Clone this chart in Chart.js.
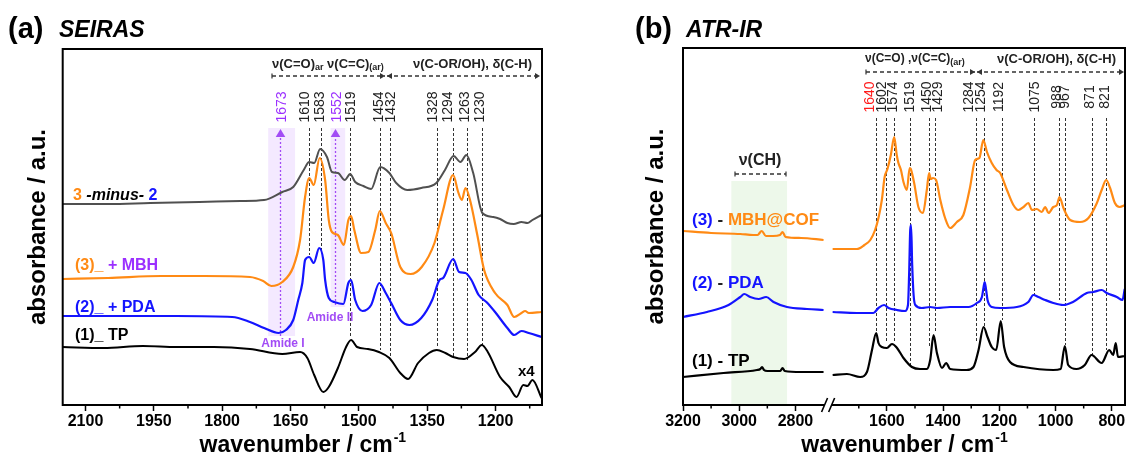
<!DOCTYPE html>
<html><head><meta charset="utf-8"><title>SEIRAS / ATR-IR</title>
<script src="https://cdn.jsdelivr.net/npm/chart.js@4.4.1/dist/chart.umd.min.js"></script>
<style>
html,body{margin:0;padding:0;background:#fff}
body{width:1127px;height:459px;position:relative;overflow:hidden}
canvas{position:absolute;top:0}
#ca{left:0}
#cb{left:560px}
</style></head>
<body>
<canvas id="ca" width="560" height="459"></canvas>
<canvas id="cb" width="567" height="459"></canvas>
<script>
// ================= DATA : panel (a) SEIRAS =================
const aMinusWn = [2150,2050,1958,1850,1760,1708,1668,1644,1621,1609,1598,1585,1570,1559,1546,1531,1519,1508,1490,1473,1453,1433,1418,1394,1363,1330,1311,1292,1277,1264,1249,1229,1205,1190,1174,1160,1143,1130,1119,1099];
const aMinusAbs = [201,201,202,203,204,205,213,218,235,243,242,256,248,233,232,225,231,223,219,216,238,232,222,215,217,222,235,249,243,250,232,192,188,186,182,181,183,182,185,190];

const aMbhWn = [2150,2050,1934,1839,1739,1710,1692,1668,1644,1629,1618,1609,1599,1586,1574,1566,1559,1546,1533,1523,1517,1510,1495,1479,1464,1454,1441,1429,1409,1386,1362,1334,1315,1293,1282,1274,1266,1256,1240,1225,1201,1174,1159,1143,1135,1127,1099];
const aMbhAbs = [126,127,129,129,128,124,119,123,138,165,208,227,220,247,225,185,173,170,160,185,189,175,152,153,175,194,182,172,138,131,138,162,195,230,213,205,217,205,170,135,112,100,88,92,94,92,93];

const aPdaWn = [2150,2000,1900,1778,1739,1708,1676,1660,1644,1633,1624,1618,1609,1599,1587,1578,1574,1566,1554,1534,1523,1517,1508,1492,1473,1455,1441,1429,1409,1389,1363,1339,1323,1315,1293,1280,1266,1253,1237,1220,1201,1174,1159,1143,1127,1099];
const aPdaAbs = [89,89,89,88,83,77,72,75,85,105,122,145,148,142,157,145,125,107,103,101,122,125,105,94,100,122,112,102,85,80,87,105,125,127,146,133,132,125,110,103,93,77,70,74,72,68];

const aTpWn = [2150,2060,1974,1900,1818,1739,1668,1629,1613,1598,1578,1566,1546,1528,1517,1504,1480,1456,1433,1409,1392,1370,1346,1329,1310,1293,1269,1245,1230,1217,1190,1170,1154,1139,1130,1119,1099];
const aTpAbs = [58,57,59,58,58,56,51,53,47,30,13,18,37,58,65,58,56,53,47,32,26,42,52,55,52,48,46,53,60,53,28,18,8,20,19,25,7];

const aTickWn = [2100,1950,1800,1650,1500,1350,1200];
const aMinorWn = [2025,1875,1725,1575,1425,1275,1125];
const aPeaks = [1673,1610,1583,1552,1519,1454,1432,1328,1294,1263,1230];
const aPeakEnd = [null,150,155,null,67,55,47,57,48,45,60];   // absorbance where guide ends
const aHighlight = [1673,1552];
const aGuideTop = 277;
const aAmideWn = [[1699,1640],[1562,1530]];
const aAmideEnd = [69,98];
const aArrowWn = [1673,1552];
const aArrowFrom = [69,100];

// ================= DATA : panel (b) ATR-IR =================
const bTpLeftWn = [3200,3056,2937,2925,2919,2912,2900,2854,2846,2838,2780,2700];
const bTpLeftAbs = [28,32,35,36,38,35,34,34,37,34,33,33];
const bTpRightWn = [1793,1742,1695,1671,1653,1638,1630,1618,1600,1582,1564,1541,1511,1482,1458,1446,1434,1422,1404,1389,1375,1316,1292,1274,1256,1242,1227,1211,1195,1183,1162,1114,1008,982,967,955,926,896,872,836,809,795,786,778,754];
const bTpRightAbs = [30,31,28,33,55,72,62,58,57,61,57,47,38,36,36,45,70,52,37,42,36,35,38,55,78,68,58,55,84,58,43,38,35,36,59,40,36,40,50,42,55,50,62,48,49];

const bPdaLeftWn = [3200,3115,3038,2996,2982,2961,2931,2904,2878,2830,2759,2700];
const bPdaLeftAbs = [88,93,100,108,111,108,106,108,103,98,96,95];
const bPdaRightWn = [1793,1707,1648,1630,1610,1594,1564,1535,1525,1521,1517,1514,1510,1505,1499,1476,1446,1422,1375,1310,1280,1262,1256,1252,1247,1242,1227,1197,1138,1097,1079,1061,1037,1008,973,938,889,866,836,818,782,762,754];
const bPdaRightAbs = [93,92,92,97,100,97,95,94,100,130,175,180,140,110,100,97,98,97,98,98,102,108,118,123,115,105,98,97,98,103,110,108,105,102,100,103,112,113,115,112,108,105,116];

const bMbhLeftWn = [3200,3100,2996,2950,2935,2920,2905,2880,2855,2846,2835,2780,2700];
const bMbhLeftAbs = [174,172,171,170,170,174,169,169,170,173,168,167,165];
const bMbhRightWn = [1793,1750,1707,1680,1659,1642,1630,1618,1608,1598,1586,1574,1565,1559,1550,1541,1529,1519,1515,1503,1488,1472,1458,1450,1444,1436,1425,1410,1393,1375,1351,1328,1304,1286,1271,1257,1244,1227,1210,1197,1173,1150,1132,1114,1097,1084,1067,1049,1037,1025,1008,995,986,972,948,913,883,853,836,820,806,789,772,752];
const bMbhRightAbs = [156,156,156,160,165,175,187,205,228,236,250,268,250,242,235,223,215,237,236,222,198,192,215,232,226,227,225,205,187,177,183,190,218,245,247,265,253,242,235,232,215,200,195,198,202,195,196,193,198,192,198,200,208,197,185,183,187,202,215,225,217,202,198,200];

const bTickWn = [3200,3000,2800,1600,1400,1200,1000,800];
const bMinorWn = [3100,2900,1700,1500,1300,1100,900];
const bPeaks = [1640,1602,1574,1519,1450,1429,1284,1254,1192,1075,988,967,871,821];
const bPeakEnd = [72,62,62,40,57,72,62,78,85,108,105,60,50,55];
const bHighlight = [1640];
const bGuideTop = 287;
const bChBand = [3028,2830];
const bChBandTop = 224;

// ================= LAYOUT / STYLE =================
const FAM = '"Liberation Sans", Arial, Helvetica, sans-serif';
const ORANGE = '#ff8a14', BLUE = '#1414ff', PURPLE = '#9b30ff', AMIDE = '#a24cf5', GREY = '#505050', RED = '#ff1a1a';
const aLabelDx = [2,-4,-1,2,1,-1,1,-4,-5,-2,-2];
const bLabelDx = [-5.7,-4,-1.3,0.7,-1.6,2.7,-6.7,-3,-2.4,1,-1.6,0,-1.7,-0.7];
const OFFB = 560;
// broken axis for panel b: left segment 3200-2700, right segment 1793-753
const bLeftEnd = 2700, bRightStart = 1793;
const toU = w => (w >= 2000 ? 3200 - w : 2325.3 - w);

function F(size, bold = true, italic = false) {
  return `${italic ? 'italic ' : ''}${bold ? 'bold' : 'normal'} ${size}px ${FAM}`;
}
function parts(ctx, x, y, list, align) {
  ctx.save(); ctx.textBaseline = 'middle'; ctx.textAlign = 'left';
  let w = 0; list.forEach(p => { ctx.font = p[1]; w += ctx.measureText(p[0]).width; });
  let cx = align === 'center' ? x - w / 2 : x;
  list.forEach(p => { ctx.font = p[1]; ctx.fillStyle = p[2]; ctx.fillText(p[0], cx, y + (p[3] || 0)); cx += ctx.measureText(p[0]).width; });
  ctx.restore();
}
function vtext(ctx, x, y, text, color) {
  ctx.save(); ctx.translate(x, y); ctx.rotate(-Math.PI / 2);
  ctx.font = F(14, false); ctx.fillStyle = color; ctx.textAlign = 'center'; ctx.textBaseline = 'middle';
  ctx.fillText(text, 0, 0); ctx.restore();
}
function tri(ctx, x, y, dir, s, color) {
  ctx.save(); ctx.fillStyle = color; ctx.beginPath();
  if (dir === 'r') { ctx.moveTo(x, y); ctx.lineTo(x - s, y - s * 0.6); ctx.lineTo(x - s, y + s * 0.6); }
  else if (dir === 'l') { ctx.moveTo(x, y); ctx.lineTo(x + s, y - s * 0.6); ctx.lineTo(x + s, y + s * 0.6); }
  else { ctx.moveTo(x, y); ctx.lineTo(x - s * 0.6, y + s); ctx.lineTo(x + s * 0.6, y + s); }
  ctx.closePath(); ctx.fill(); ctx.restore();
}
function bracket(ctx, x1, x2, y, startArrow, endArrow) {
  ctx.save(); ctx.strokeStyle = '#333'; ctx.lineWidth = 1.5; ctx.setLineDash([4, 3]);
  ctx.beginPath(); ctx.moveTo(x1, y); ctx.lineTo(x2, y); ctx.stroke(); ctx.setLineDash([]);
  ctx.lineWidth = 1.2; ctx.beginPath();
  if (!startArrow) { ctx.moveTo(x1, y - 2.5); ctx.lineTo(x1, y + 2.5); }
  if (!endArrow) { ctx.moveTo(x2, y - 2.5); ctx.lineTo(x2, y + 2.5); }
  ctx.stroke(); ctx.restore();
  if (startArrow) tri(ctx, x1, y, 'l', 5, '#333');
  if (endArrow) tri(ctx, x2, y, 'r', 5, '#333');
}
function xTitle(ctx, cx, y) {
  const main = 'wavenumber / cm', sup = '-1';
  ctx.save(); ctx.fillStyle = '#000'; ctx.textBaseline = 'alphabetic'; ctx.textAlign = 'left';
  ctx.font = F(23); const w1 = ctx.measureText(main).width;
  ctx.font = F(14); const w2 = ctx.measureText(sup).width;
  const x0 = cx - (w1 + w2) / 2;
  ctx.font = F(23); ctx.fillText(main, x0, y);
  ctx.font = F(14); ctx.fillText(sup, x0 + w1 + 1, y - 10);
  ctx.restore();
}
function pts(wn, ab, f) { return wn.map((w, i) => ({ x: f ? f(w) : w, y: ab[i] })); }
function ds(data, color, w) {
  return { data, borderColor: color, borderWidth: w || 2.2, pointRadius: 0, fill: false,
           cubicInterpolationMode: 'monotone', borderJoinStyle: 'round' };
}
const tickFont = { family: FAM, size: 16, weight: 'bold' };
const yTitleFont = { family: FAM, size: 24, weight: 'bold' };

// ================= PANEL (a) =================
const aDecor = {
  id: 'aDecor',
  beforeDatasetsDraw(chart) {
    const { ctx, scales: { x, y } } = chart;
    ctx.save();
    ctx.fillStyle = 'rgba(204,153,255,0.22)';
    aAmideWn.forEach((b, i) => {
      const x1 = x.getPixelForValue(b[0]), x2 = x.getPixelForValue(b[1]);
      const yt = y.getPixelForValue(aGuideTop), yb = y.getPixelForValue(aAmideEnd[i]);
      ctx.fillRect(Math.min(x1, x2), yt, Math.abs(x2 - x1), yb - yt);
    });
    ctx.strokeStyle = '#333'; ctx.lineWidth = 1; ctx.setLineDash([3, 2]);
    aPeaks.forEach((p, i) => {
      if (aPeakEnd[i] == null) return;
      const px = Math.round(x.getPixelForValue(p)) + 0.5;
      ctx.beginPath(); ctx.moveTo(px, y.getPixelForValue(aGuideTop)); ctx.lineTo(px, y.getPixelForValue(aPeakEnd[i])); ctx.stroke();
    });
    ctx.strokeStyle = AMIDE; ctx.lineWidth = 1.3; ctx.setLineDash([2, 2]);
    aArrowWn.forEach((p, i) => {
      const px = Math.round(x.getPixelForValue(p)) + 0.5;
      ctx.beginPath(); ctx.moveTo(px, y.getPixelForValue(aArrowFrom[i])); ctx.lineTo(px, y.getPixelForValue(aGuideTop) + 6); ctx.stroke();
      tri(ctx, px, y.getPixelForValue(aGuideTop) + 1, 'u', 8, AMIDE);
    });
    ctx.restore();
  },
  afterDatasetsDraw(chart) {
    const { ctx, chartArea: ca, scales: { x, y } } = chart;
    ctx.save();
    ctx.strokeStyle = '#000'; ctx.lineWidth = 2;
    ctx.strokeRect(ca.left, ca.top, ca.right - ca.left, ca.bottom - ca.top);
    ctx.lineWidth = 1.5; ctx.beginPath();
    aMinorWn.forEach(v => { const px = x.getPixelForValue(v); ctx.moveTo(px, ca.bottom); ctx.lineTo(px, ca.bottom + 3.5); });
    ctx.stroke();
    ctx.restore();
    parts(ctx, 8, 30, [['(a)', F(29), '#000']]);
    parts(ctx, 59, 31, [['SEIRAS', F(23, true, true), '#000']]);
    parts(ctx, 272, 64, [['ν(C=O)', F(13), '#222'], ['ar', F(9), '#222', 4], [' ν(C=C)', F(13), '#222'], ['(ar)', F(9), '#222', 4]]);
    parts(ctx, 413, 64, [['ν(C-OR/OH), δ(C-H)', F(13), '#222']]);
    bracket(ctx, 272, 385, 76, false, true);
    bracket(ctx, 387, 540, 76, true, true);
    aPeaks.forEach((p, i) => {
      vtext(ctx, x.getPixelForValue(p) + aLabelDx[i], 107, String(p), aHighlight.includes(p) ? PURPLE : '#222');
    });
    parts(ctx, 73, 196, [['3', F(16), ORANGE], [' -minus- ', F(16, true, true), '#000'], ['2', F(16), BLUE]]);
    parts(ctx, 75, 266, [['(3)_', F(16), ORANGE], [' + MBH', F(16), PURPLE]]);
    parts(ctx, 75, 308, [['(2)_ + PDA', F(16), BLUE]]);
    parts(ctx, 75, 336, [['(1)_ TP', F(16), '#000']]);
    parts(ctx, 518, 372, [['x4', F(15), '#000']]);
    parts(ctx, 283, 344, [['Amide I', F(12), AMIDE]], 'center');
    parts(ctx, 330, 318, [['Amide II', F(12), AMIDE]], 'center');
    xTitle(ctx, (ca.left + ca.right) / 2, 452);
  }
};

new Chart(document.getElementById('ca'), {
  type: 'line',
  data: { datasets: [
    ds(pts(aMinusWn, aMinusAbs), GREY, 2),
    ds(pts(aMbhWn, aMbhAbs), ORANGE),
    ds(pts(aPdaWn, aPdaAbs), BLUE),
    ds(pts(aTpWn, aTpAbs), '#000', 2)
  ]},
  options: {
    responsive: false, animation: false, events: [],
    layout: { padding: { top: 49, right: 18, left: 0, bottom: 0 } },
    plugins: { legend: { display: false }, tooltip: { enabled: false } },
    scales: {
      x: {
        type: 'linear', reverse: true, min: 1098, max: 2150,
        afterBuildTicks: s => { s.ticks = aTickWn.map(v => ({ value: v })); },
        afterFit: s => { s.height = 54; },
        grid: { display: true, drawOnChartArea: false, drawTicks: true, tickLength: 6, tickWidth: 1.5, tickColor: '#000' },
        border: { display: false },
        ticks: { font: tickFont, color: '#000', padding: 1, maxRotation: 0, autoSkip: false, callback: v => String(v) }
      },
      y: {
        min: 0, max: 356,
        afterFit: s => { s.width = 62.7; },
        ticks: { display: false }, grid: { display: false }, border: { display: false },
        title: { display: true, text: 'absorbance / a.u.', color: '#000', font: yTitleFont, padding: { top: 23.6, bottom: 0 } }
      }
    }
  },
  plugins: [aDecor]
});

// ================= PANEL (b) =================
const bDecor = {
  id: 'bDecor',
  beforeDatasetsDraw(chart) {
    const { ctx, chartArea: ca, scales: { x, y } } = chart;
    ctx.save();
    ctx.fillStyle = 'rgba(190,230,180,0.28)';
    const x1 = x.getPixelForValue(toU(bChBand[0])), x2 = x.getPixelForValue(toU(bChBand[1]));
    const yt = y.getPixelForValue(bChBandTop);
    ctx.fillRect(x1, yt, x2 - x1, ca.bottom - yt);
    ctx.strokeStyle = '#333'; ctx.lineWidth = 1; ctx.setLineDash([3, 2]);
    bPeaks.forEach((p, i) => {
      const px = Math.round(x.getPixelForValue(toU(p))) + 0.5;
      ctx.beginPath(); ctx.moveTo(px, y.getPixelForValue(bGuideTop)); ctx.lineTo(px, y.getPixelForValue(bPeakEnd[i])); ctx.stroke();
    });
    ctx.restore();
  },
  afterDatasetsDraw(chart) {
    const { ctx, chartArea: ca, scales: { x, y } } = chart;
    ctx.save();
    ctx.strokeStyle = '#000'; ctx.lineWidth = 2;
    const gx1 = x.getPixelForValue(toU(bLeftEnd)) + 1, gx2 = x.getPixelForValue(toU(bRightStart)) - 1;
    ctx.beginPath();
    ctx.moveTo(gx1, ca.bottom); ctx.lineTo(ca.left, ca.bottom); ctx.lineTo(ca.left, ca.top);
    ctx.lineTo(ca.right, ca.top); ctx.lineTo(ca.right, ca.bottom); ctx.lineTo(gx2, ca.bottom);
    ctx.stroke();
    ctx.lineWidth = 1.6; ctx.beginPath();
    [gx1, gx2].forEach(gx => { ctx.moveTo(gx - 3, ca.bottom + 7); ctx.lineTo(gx + 3, ca.bottom - 7); });
    ctx.stroke();
    ctx.lineWidth = 1.5; ctx.beginPath();
    bMinorWn.forEach(v => { const px = x.getPixelForValue(toU(v)); ctx.moveTo(px, ca.bottom); ctx.lineTo(px, ca.bottom + 3.5); });
    ctx.stroke();
    ctx.restore();
    const X = v => v - OFFB;
    parts(ctx, X(635), 30, [['(b)', F(29), '#000']]);
    parts(ctx, X(686), 31, [['ATR-IR', F(23, true, true), '#000']]);
    parts(ctx, X(865), 59, [['ν(C=O) ,ν(C=C)', F(12), '#222'], ['(ar)', F(9), '#222', 4]]);
    parts(ctx, X(997), 59, [['ν(C-OR/OH), δ(C-H)', F(13), '#222']]);
    bracket(ctx, X(866), X(975), 72, false, true);
    bracket(ctx, X(977), X(1124), 72, true, true);
    bPeaks.forEach((p, i) => {
      vtext(ctx, x.getPixelForValue(toU(p)) + bLabelDx[i], 97, String(p), bHighlight.includes(p) ? RED : '#222');
    });
    parts(ctx, X(760), 161, [['ν(CH)', F(16), '#222']], 'center');
    bracket(ctx, X(735), X(786), 174, false, false);
    parts(ctx, X(692), 220, [['(3)', F(17), BLUE], [' - ', F(17), '#222'], ['MBH@COF', F(17), ORANGE]]);
    parts(ctx, X(692), 283, [['(2)', F(17), BLUE], [' - ', F(17), '#222'], ['PDA', F(17), BLUE]]);
    parts(ctx, X(692), 361, [['(1) - TP', F(17), '#000']]);
    xTitle(ctx, (ca.left + ca.right) / 2, 452);
  }
};

new Chart(document.getElementById('cb'), {
  type: 'line',
  data: { datasets: [
    ds(pts(bMbhLeftWn, bMbhLeftAbs, toU), ORANGE),
    ds(pts(bMbhRightWn, bMbhRightAbs, toU), ORANGE),
    ds(pts(bPdaLeftWn, bPdaLeftAbs, toU), BLUE),
    ds(pts(bPdaRightWn, bPdaRightAbs, toU), BLUE),
    ds(pts(bTpLeftWn, bTpLeftAbs, toU), '#000'),
    ds(pts(bTpRightWn, bTpRightAbs, toU), '#000')
  ]},
  options: {
    responsive: false, animation: false, events: [],
    layout: { padding: { top: 48, right: 2, left: 0, bottom: 0 } },
    plugins: { legend: { display: false }, tooltip: { enabled: false } },
    scales: {
      x: {
        type: 'linear', min: 0, max: toU(753),
        afterBuildTicks: s => { s.ticks = bTickWn.map(w => ({ value: toU(w) })); },
        afterFit: s => { s.height = 54; },
        grid: { display: true, drawOnChartArea: false, drawTicks: true, tickLength: 6, tickWidth: 1.5, tickColor: '#000' },
        border: { display: false },
        ticks: { font: tickFont, color: '#000', padding: 1, maxRotation: 0, autoSkip: false,
                 callback: (v, i) => String(bTickWn[i]) }
      },
      y: {
        min: 0, max: 357,
        afterFit: s => { s.width = 123; },
        ticks: { display: false }, grid: { display: false }, border: { display: false },
        title: { display: true, text: 'absorbance / a.u.', color: '#000', font: yTitleFont, padding: { top: 81.6, bottom: 0 } }
      }
    }
  },
  plugins: [bDecor]
});
</script>
</body></html>
